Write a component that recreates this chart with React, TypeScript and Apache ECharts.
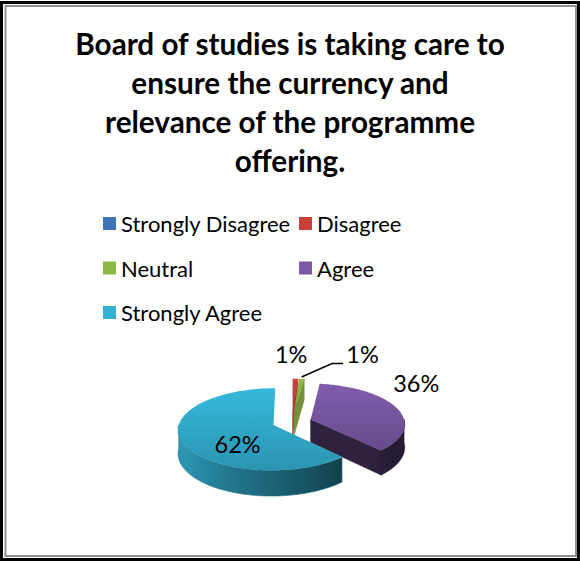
import React, { useEffect, useRef } from "react";
import * as echarts from "echarts";

// ---- data ----
const TITLE_LINES = [
  "Board of studies is taking care to",
  "ensure the currency and",
  "relevance of the programme",
  "offering.",
];
const CATEGORIES = ["Strongly Disagree", "Disagree", "Neutral", "Agree", "Strongly Agree"];
const VALUES = [0, 1, 1, 36, 62];
const LEGEND_COL1 = ["Strongly Disagree", "Neutral", "Strongly Agree"];
const LEGEND_COL2 = ["Disagree", "Agree"];

// ---- styles ----
const COLORS = ["#3D74B8", "#C9403A", "#8EB645", "#7B59A6", "#33B1D3"];
const FONT = "Lato";
const PIE = { cx: 292, cy: 422, rx: 94, ry: 40, depth: 23, explode: 0.21, persp: 0.1 };
// label anchor: [radius fraction, dx, dy, leader]
const LABEL_PLACE: [number, number, number, boolean][] = [
  [1, 0, -25, false],
  [1, -4, -25, false],
  [1, 61, -25, true],
  [1, 20, -25, false],
  [0.45, 4.7, 12.5, false],
];

const TOTAL = VALUES.reduce((a, b) => a + b, 0);
const STARTS = VALUES.map((_, i) => VALUES.slice(0, i).reduce((a, b) => a + b, 0));

const rad = (d: number) => (d * Math.PI) / 180;
function shadeHex(hex: string, f: number) {
  const n = parseInt(hex.slice(1), 16);
  const c = (v: number) => Math.max(0, Math.min(255, Math.round(v * f)));
  return `rgb(${c((n >> 16) & 255)},${c((n >> 8) & 255)},${c(n & 255)})`;
}
const wallShade = (deg: number) =>
  0.3 + 0.55 * Math.max(0, Math.min(1, (deg - 125) / 115));

const renderSlice = (i: number) => (_params: any, api: any) => {
  const start = api.value(0) as number;
  const val = api.value(1) as number;
  const total = api.value(2) as number;
  if (!val) return { type: "group", children: [] };
  const a0 = (start / total) * 360;
  const a1 = ((start + val) / total) * 360;
  const mid = (a0 + a1) / 2;
  const { cx, cy, rx, ry, depth, explode, persp } = PIE;
  const eu = explode * Math.sin(rad(mid));
  const ev = explode * Math.cos(rad(mid));
  const P = (deg: number, r = 1, dz = 0) => {
    const u = eu + r * Math.sin(rad(deg));
    const v = ev + r * Math.cos(rad(deg));
    const k = 1 / (1 + persp * v);
    return [cx + u * rx * k, cy - v * ry * k + dz * k];
  };
  const arc = (from: number, to: number, dz: number) => {
    const n = Math.max(2, Math.ceil(Math.abs(to - from)));
    const pts: number[][] = [];
    for (let k = 0; k <= n; k++) pts.push(P(from + ((to - from) * k) / n, 1, dz));
    return pts;
  };
  const base = COLORS[i];
  const children: any[] = [];
  const cutShade = val / total < 0.05 ? 0.8 : 0.38;
  const cutWall = (deg: number) => [P(deg, 0, 0), P(deg, 1, 0), P(deg, 1, depth), P(deg, 0, depth)];
  const poly = (points: number[][], fill: any, stroke?: string) => ({
    type: "polygon",
    shape: { points },
    style: { fill, stroke: stroke || "none", lineWidth: stroke ? 0.6 : 0 },
  });
  if (a0 > 180 && a0 < 360) {
    const c = shadeHex(base, cutShade);
    children.push(poly(cutWall(a0), c, c));
  }
  if (a1 > 0 && a1 < 180) {
    const c = shadeHex(base, cutShade);
    children.push(poly(cutWall(a1), c, c));
  }
  const lo = Math.max(a0, 90);
  const hi = Math.min(a1, 270);
  if (hi > lo) {
    const top = arc(lo, hi, 0);
    const bot = arc(hi, lo, depth);
    const xs = [...top, ...bot].map((p) => p[0]);
    const minX = Math.min(...xs);
    const maxX = Math.max(...xs);
    const stops: { offset: number; color: string }[] = [];
    const N = 16;
    for (let k = 0; k <= N; k++) {
      const d = lo + ((hi - lo) * k) / N;
      const x = P(d)[0];
      stops.push({
        offset: maxX > minX ? Math.max(0, Math.min(1, (x - minX) / (maxX - minX))) : 0,
        color: shadeHex(base, wallShade(d)),
      });
    }
    stops.sort((a, b) => a.offset - b.offset);
    children.push(
      poly([...top, ...bot], {
        type: "linear", x: 0, y: 0, x2: 1, y2: 0, colorStops: stops,
      }, shadeHex(base, wallShade((lo + hi) / 2)))
    );
  }
  // top face
  children.push(
    poly([P(mid, 0, 0), ...arc(a0, a1, 0)], {
      type: "linear", x: 0, y: 0, x2: 0, y2: 1,
      colorStops: [
        { offset: 0, color: shadeHex(base, 1.04) },
        { offset: 1, color: shadeHex(base, 0.84) },
      ],
    })
  );
  // label
  const [f, dx, dy, leader] = LABEL_PLACE[i];
  const anchor = P(mid, f);
  const lx = anchor[0] + dx;
  const ly = anchor[1] + dy;
  if (leader) {
    children.push({
      type: "polyline",
      shape: {
        points: [
          [anchor[0], anchor[1] - 2],
          [lx - 30.5, ly + 9.5],
          [lx - 19.5, ly + 9.5],
        ],
      },
      style: { stroke: "#000", lineWidth: 1.4, fill: "none" },
    });
  }
  children.push({
    type: "text",
    x: lx,
    y: ly,
    style: {
      text: `${Math.round((val / total) * 100)}%`,
      fill: "#000",
      fontSize: 23.5,
      fontFamily: FONT,
      align: "center",
      verticalAlign: "middle",
    },
  });
  return { type: "group", children };
};

export default function App() {
  const ref = useRef<HTMLDivElement>(null);
  useEffect(() => {
    if (!ref.current) return;
    const chart = echarts.init(ref.current, null, { renderer: "svg" });
    const legendBase = {
      orient: "vertical",
      top: 212.5,
      itemWidth: 13,
      itemHeight: 13,
      itemGap: 22.5,
      padding: 0,
      icon: "rect",
      selectedMode: false,
      textStyle: { fontFamily: FONT, fontSize: 22, color: "#000", lineHeight: 22 },
    };
    chart.setOption({
      animation: false,
      backgroundColor: "#fff",
      title: {
        text: TITLE_LINES.join("\n"),
        left: "center",
        top: 24,
        padding: 0,
        textStyle: {
          fontFamily: FONT,
          fontWeight: "bold",
          fontSize: 29.7,
          lineHeight: 39,
          color: "#000",
        },
      },
      legend: [
        { ...legendBase, data: LEGEND_COL1, left: 103 },
        { ...legendBase, data: LEGEND_COL2, left: 299 },
      ],
      graphic: [
        {
          type: "rect",
          shape: { x: 1.5, y: 2.5, width: 577, height: 557 },
          style: { fill: "none", stroke: "#000", lineWidth: 3 },
          silent: true,
        },
        {
          type: "rect",
          shape: { x: 5.5, y: 6, width: 570.5, height: 550 },
          style: { fill: "none", stroke: "#8f8f8f", lineWidth: 2 },
          silent: true,
        },
      ],
      series: CATEGORIES.map((name, i) => ({
        type: "custom",
        name,
        coordinateSystem: "none",
        itemStyle: { color: COLORS[i] },
        silent: true,
        data: [[STARTS[i], VALUES[i], TOTAL]],
        renderItem: renderSlice(i),
      })),
    });
    return () => chart.dispose();
  }, []);
  return (
    <div
      ref={ref}
      style={{ position: "absolute", left: 0, top: 0, width: 580, height: 563 }}
    />
  );
}
